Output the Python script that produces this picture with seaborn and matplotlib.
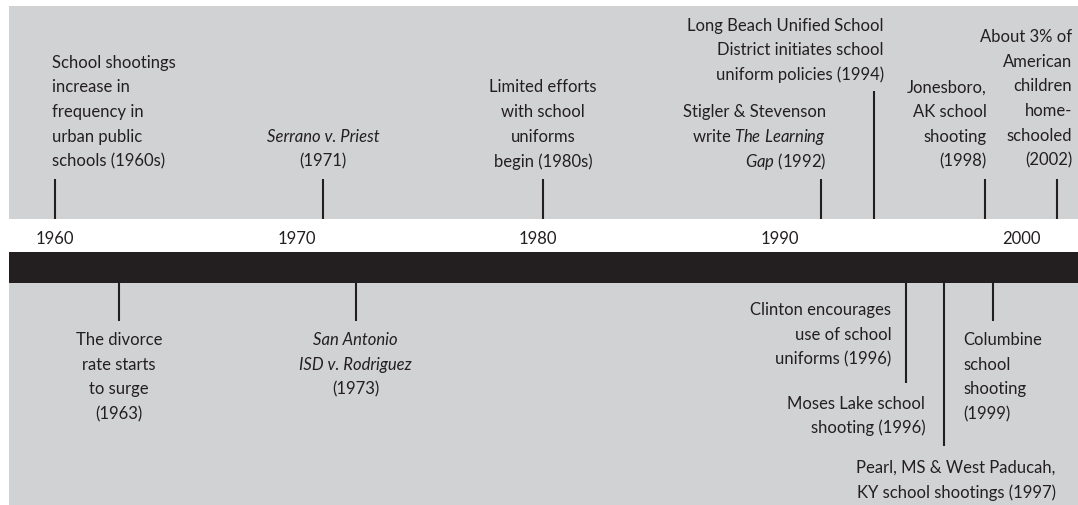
import matplotlib
matplotlib.use("Agg")
import matplotlib.pyplot as plt
import seaborn as sns

# ---- data ----
decades = [1960, 1970, 1980, 1990, 2000]

# *...* marks italic text
top_years = [1960.0, 1971.1, 1980.2, 1991.7, 1993.9, 1998.5, 2001.5]
top_labels = [
    ["School shootings", "increase in", "frequency in", "urban public", "schools (1960s)"],
    ["*Serrano v. Priest*", "(1971)"],
    ["Limited efforts", "with school", "uniforms", "begin (1980s)"],
    ["Stigler & Stevenson", "write *The Learning*", "*Gap* (1992)"],
    ["Long Beach Unified School", "District initiates school", "uniform policies (1994)"],
    ["Jonesboro,", "AK school", "shooting", "(1998)"],
    ["About 3% of", "American", "children", "home-", "schooled", "(2002)"],
]

bottom_years = [1962.65, 1972.45, 1995.25, 1996.8, 1998.85]
bottom_labels = [
    [["The divorce", "rate starts", "to surge", "(1963)"]],
    [["*San Antonio*", "*ISD v. Rodriguez*", "(1973)"]],
    [["Clinton encourages", "use of school", "uniforms (1996)"],
     ["Moses Lake school", "shooting (1996)"]],
    [["Pearl, MS & West Paducah,", "KY school shootings (1997)"]],
    [["Columbine", "school", "shooting", "(1999)"]],
]

# ---- layout (pixels) ----
PX = 24.15            # pixels per year
X0 = 1960 - 55 / PX   # year at left edge
W, H = 1078, 506
GRAY = "#d1d2d4"
INK = "#231f20"
LINE = 24.7
FONT = "Lato"
FS = 12.0

# stem end (y px) and text placement: (dx px, ha, first baseline y)
top_stem_end = [180, 180, 180, 180, 92, 180, 180]
top_text = [(-3, "left", 67.7), (0, "center", 141.8), (0, "center", 92.4),
            (5.5, "right", 117.1), (10, "right", 30.5), (2, "right", 92.4),
            (15, "right", 42)]
bottom_stem_end = [322, 322, 384, 447, 322]
bottom_text = [
    [(0, "center", 345)],
    [(0, "center", 345)],
    [(-15, "right", 315.5), (19, "right", 408.8)],
    [(112, "right", 473)],
    [(-30, "left", 345)],
]

sns.set_theme(style="white")
plt.rcParams["font.family"] = [FONT, "DejaVu Sans"]
plt.rcParams["mathtext.fontset"] = "custom"
plt.rcParams["mathtext.rm"] = FONT
plt.rcParams["mathtext.it"] = FONT + ":italic"

fig = plt.figure(figsize=(W / 100, H / 100), dpi=100)
ax = fig.add_axes([0, 0, 1, 1])
ax.set_xlim(X0, X0 + W / PX)
ax.set_ylim(H, 0)
ax.axis("off")

left = 9 / W
ax.axhspan(7, 220, xmin=left, xmax=1, color=GRAY, lw=0)
ax.axhspan(253, 284, xmin=left, xmax=1, color=INK, lw=0)
ax.axhspan(284, H, xmin=left, xmax=1, color=GRAY, lw=0)

for d in decades:
    ax.text(d, 243.5, str(d), ha="center", va="baseline", fontsize=FS, color=INK)

ax.vlines(top_years, top_stem_end, 220, color=INK, lw=1.5)
ax.vlines(bottom_years, 284, bottom_stem_end, color=INK, lw=1.5)


def draw_lines(x, lines, ha, y0):
    for i, s in enumerate(lines):
        style = "normal"
        if s.startswith("*") and s.endswith("*") and s.count("*") == 2:
            s, style = s.strip("*"), "italic"
        elif "*" in s:
            parts = s.split("*")
            s = "".join(
                p if k % 2 == 0 else r"$\mathit{" + p.replace(" ", r"\ ") + "}$"
                for k, p in enumerate(parts))
        ax.text(x, y0 + i * LINE, s, ha=ha, va="baseline", fontsize=FS,
                color=INK, style=style)


for yr, lines, (dx, ha, y0) in zip(top_years, top_labels, top_text):
    draw_lines(yr + dx / PX, lines, ha, y0)

for yr, groups, places in zip(bottom_years, bottom_labels, bottom_text):
    for lines, (dx, ha, y0) in zip(groups, places):
        draw_lines(yr + dx / PX, lines, ha, y0)

fig.savefig("out.png", dpi=100, facecolor="white")
